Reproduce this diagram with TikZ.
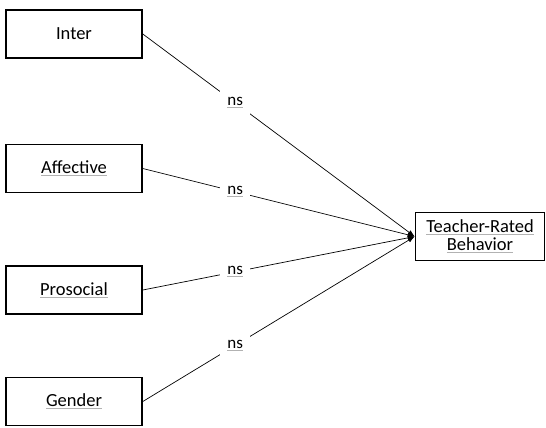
\documentclass[tikz,border=0pt]{standalone}
\usepackage{fontspec}
\setmainfont{Carlito}
\usetikzlibrary{arrows.meta}
\newcommand{\spellmark}[1]{{\color{gray!60}\underline{\color{black}#1}}}
\begin{document}
\begin{tikzpicture}[x=1pt,y=-1pt]
        \useasboundingbox (0,0) rectangle (546,428);
        \begin{scope}[every node/.style={draw, line width=1.6pt, minimum width=136pt, minimum height=48pt, align=center, font=\fontsize{18.5}{21}\selectfont}]
            \node (inter) at (74,34) {Inter};
            \node (affective) at (74,168.5) {\spellmark{Affective}};
            \node (prosocial) at (74,290) {\spellmark{Prosocial}};
            \node (gender) at (74,401.5) {\spellmark{Gender}};
            \node[minimum width=129pt] (teacher) at (480,236.5) {\spellmark{Teacher-Rated}\\[-3pt]\spellmark{Behavior}};
        \end{scope}

        \begin{scope}[
                every edge/.style={draw, line width=0.7pt},
                every node/.style={fill=white, inner sep=7pt, pos=0.34, font=\fontsize{17}{20}\selectfont}]
            \path [-{Latex[length=7pt,width=5pt]}] (inter.east) edge node {\spellmark{ns}} (teacher.west);
            \path [-{Latex[length=7pt,width=5pt]}] (affective.east) edge node {\spellmark{ns}} (teacher.west);
            \path [-{Latex[length=7pt,width=5pt]}] (prosocial.east) edge node {\spellmark{ns}} (teacher.west);
            \path [-{Latex[length=7pt,width=5pt]}] (gender.east) edge node {\spellmark{ns}} (teacher.west);
        \end{scope}
    \end{tikzpicture}
\end{document}
